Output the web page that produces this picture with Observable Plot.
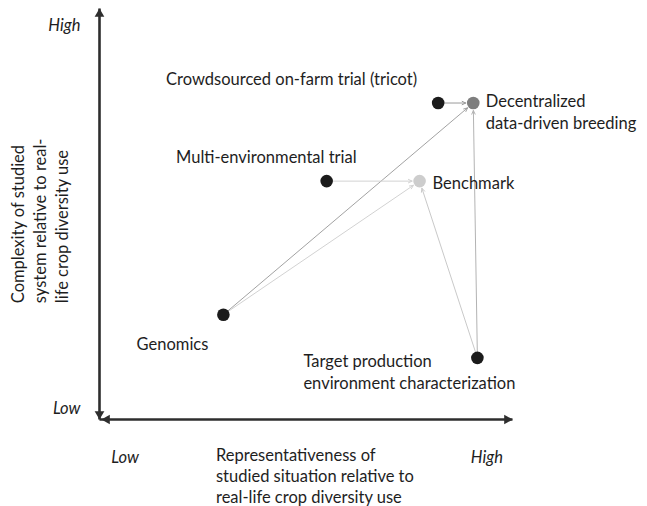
<!DOCTYPE html>
<html>
<head>
<meta charset="utf-8">
<script src="https://cdn.jsdelivr.net/npm/d3@7"></script>
<script src="https://cdn.jsdelivr.net/npm/@observablehq/plot@0.6"></script>
<style>
  html, body { margin: 0; padding: 0; background: #fff; }
</style>
</head>
<body>
<div id="chart"></div>
<script>
// ---- data (scores on a 0–10 scale) ----
const nodes = ["Genomics", "Multi-environmental trial", "Crowdsourced on-farm trial (tricot)",
  "Target production\nenvironment characterization", "Benchmark", "Decentralized\ndata-driven breeding"];
const representativeness = [3.0, 5.5, 8.2, 9.15, 7.75, 9.05];
const complexity = [2.55, 5.8, 7.7, 1.5, 5.8, 7.7];
const nodeKind = ["method", "method", "method", "method", "benchmark", "goal"];

const edgeFrom = [2, 0, 0, 1, 3, 3];
const edgeTo   = [5, 5, 4, 4, 4, 5];

const levelLabels = ["Low", "High"];
const xLevelAt = [0.62, 9.38];
const yLevelAt = [0.27, 9.59];
const xTitle = "Representativeness of\nstudied situation relative to\nreal-life crop diversity use";
const yTitle = "Complexity of studied\nsystem relative to real-\nlife crop diversity use";

// ---- build tables ----
const pts = nodes.map((name, i) => ({name, x: representativeness[i], y: complexity[i], kind: nodeKind[i]}));
const edges = edgeFrom.map((f, i) => ({
  x1: pts[f].x, y1: pts[f].y, x2: pts[edgeTo[i]].x, y2: pts[edgeTo[i]].y, k: i
}));
const xLevels = levelLabels.map((t, i) => ({t, v: xLevelAt[i]}));
const yLevels = levelLabels.map((t, i) => ({t, v: yLevelAt[i]}));

const edgeColor = ["#9a9a9a", "#8a8a8a", "#d2d2d2", "#d2d2d2", "#c9c9c9", "#b3b3b3"];
const edgeWidth = [1, 0.8, 1, 1, 1, 1];
const fillOf = {method: "#1b1b1b", benchmark: "#cdcdcd", goal: "#7e7e7e"};

const FONT = "Lato, sans-serif";
const FS = 16.5;
const TXT = "#1e1e1e";

function label(i, opts) {
  return Plot.text([pts[i]], {x: "x", y: "y", text: "name", fontSize: FS, fill: TXT, lineHeight: 1.33, ...opts});
}

const plot = Plot.plot({
  width: 647,
  height: 506,
  margin: 0,
  style: {fontFamily: FONT, background: "#fff", overflow: "visible"},
  x: {domain: [0, 10], range: [99, 512], axis: null},
  y: {domain: [0, 10], range: [419, 8], axis: null},
  marks: [
    // axis arrows
    Plot.link([{x1: 0, y1: 0, x2: 0, y2: 10}], {x1: "x1", y1: "y1", x2: "x2", y2: "y2", stroke: "#2e2e2e", strokeWidth: 2.6, insetStart: 4, insetEnd: 4}),
    Plot.link([{x1: 0, y1: 0, x2: 10, y2: 0}], {x1: "x1", y1: "y1", x2: "x2", y2: "y2", stroke: "#2e2e2e", strokeWidth: 2.6, insetStart: 4, insetEnd: 4}),
    Plot.dot([{x: 0, y: 10}], {x: "x", y: "y", symbol: "triangle", r: 3.6, fill: "#2e2e2e", rotate: 0, dy: 5.5}),
    Plot.dot([{x: 0, y: 0}], {x: "x", y: "y", symbol: "triangle", r: 3.6, fill: "#2e2e2e", rotate: 180, dy: -5.5}),
    Plot.dot([{x: 0, y: 0}], {x: "x", y: "y", symbol: "triangle", r: 3.6, fill: "#2e2e2e", rotate: -90, dx: 7.5}),
    Plot.dot([{x: 10, y: 0}], {x: "x", y: "y", symbol: "triangle", r: 3.6, fill: "#2e2e2e", rotate: 90, dx: -5.5}),
    // Low / High level labels
    Plot.text(xLevels, {x: "v", y: -0.92, text: "t", textAnchor: "middle", fontSize: FS, fontStyle: "italic", fill: TXT}),
    Plot.text(yLevels, {x: -0.46, y: "v", text: "t", textAnchor: "end", fontSize: FS, fontStyle: "italic", fill: TXT}),
    // axis titles
    Plot.text([xTitle], {x: 2.82, y: -1.36, text: d => d, textAnchor: "start", lineAnchor: "middle", fontSize: FS, fill: TXT, lineHeight: 1.27}),
    Plot.text([yTitle], {x: -1.47, y: 2.83, text: d => d, textAnchor: "start", lineAnchor: "middle", rotate: -90, fontSize: FS, fill: TXT, lineHeight: 1.33}),
    // connections
    Plot.arrow(edges, {x1: "x1", y1: "y1", x2: "x2", y2: "y2",
      stroke: d => edgeColor[d.k], strokeWidth: d => edgeWidth[d.k],
      headLength: 6, headAngle: 50, insetStart: 6, insetEnd: 7.5}),
    // nodes
    Plot.dot(pts, {x: "x", y: "y", r: 6.3, fill: d => fillOf[d.kind], stroke: "none"}),
    // node labels
    label(0, {textAnchor: "end", dx: -15, dy: 28}),
    label(1, {textAnchor: "end", dx: 30, dy: -25.5}),
    label(2, {textAnchor: "end", dx: -21, dy: -25}),
    label(3, {textAnchor: "start", dx: -174, dy: 13, lineAnchor: "middle"}),
    label(4, {textAnchor: "start", dx: 13, dy: 1}),
    label(5, {textAnchor: "start", dx: 12.5, dy: 8, lineAnchor: "middle"})
  ]
});
document.getElementById("chart").appendChild(plot);
</script>
</body>
</html>
